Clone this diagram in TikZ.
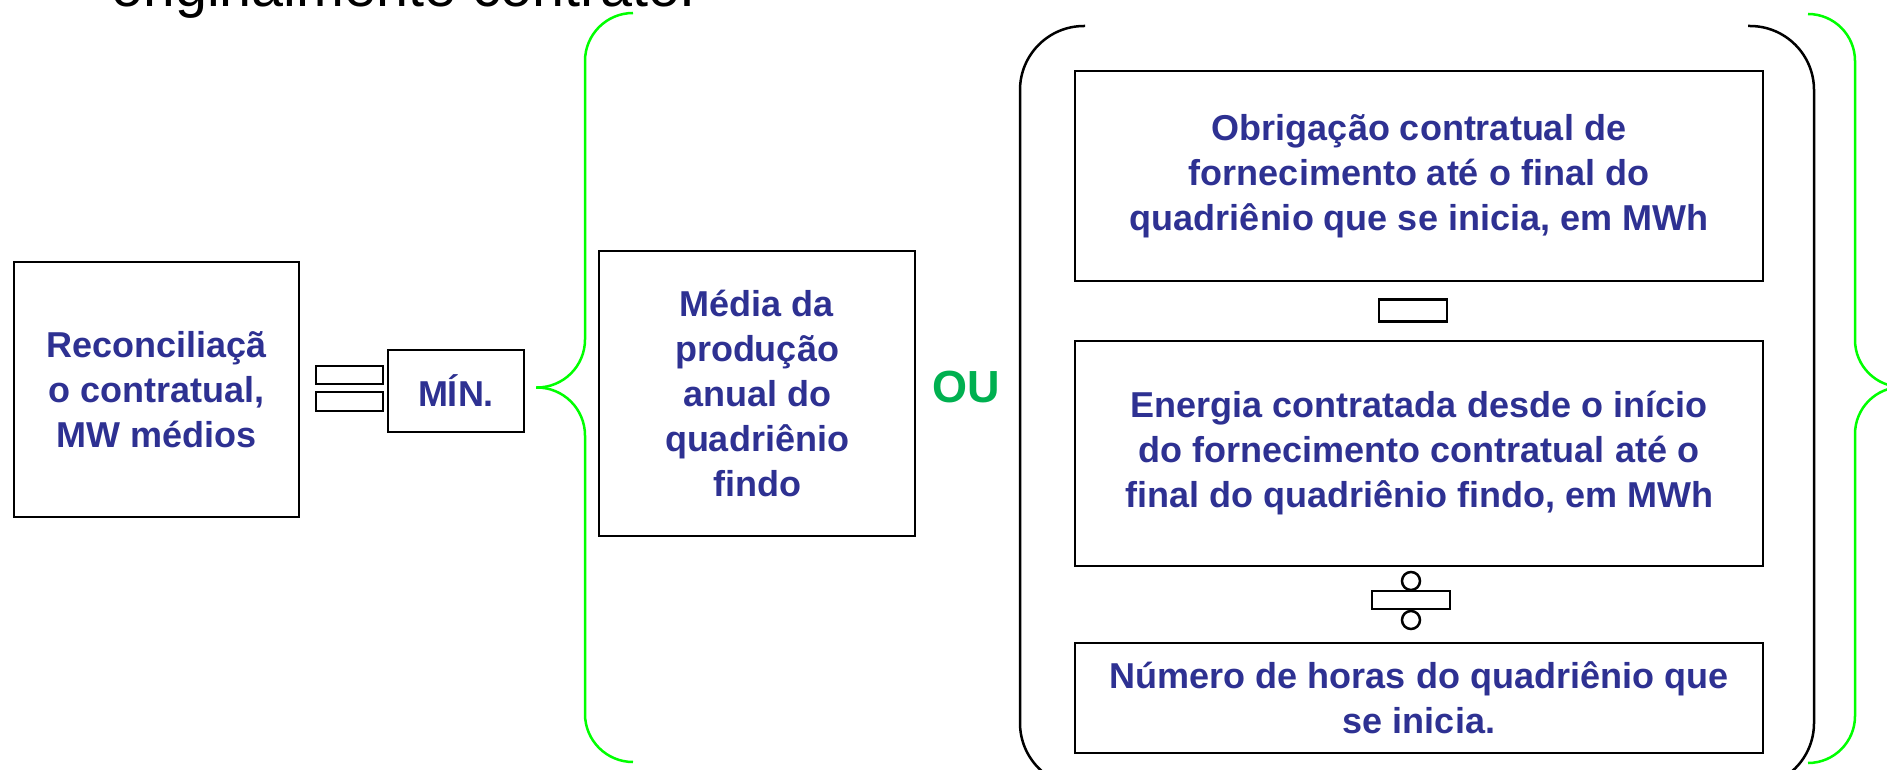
\documentclass[tikz,border=0pt]{standalone}
\usepackage{fontspec}
\setmainfont{Liberation Sans}
\definecolor{txtblue}{RGB}{46,49,146}
\definecolor{ougreen}{RGB}{0,176,80}
\definecolor{bracegreen}{RGB}{0,255,0}
\begin{document}
\begin{tikzpicture}[x=1pt,y=-1pt,
  box/.style={draw=black, line width=2.5pt, inner sep=0pt, align=center, text=txtblue,
              font=\fontsize{36}{45}\selectfont\bfseries},
  symbox/.style={draw=black, line width=2.5pt, inner sep=0pt, fill=white},
  symdot/.style={circle, draw=black, line width=2.5pt, inner sep=0pt, minimum size=18pt, fill=white},
  bracepath/.style={draw=bracegreen, line width=2.5pt},
  parenpath/.style={draw=black, line width=2.5pt}]
\useasboundingbox (0,0) rectangle (1887,770);
\clip (0,0) rectangle (1887,770);

% title fragment (cut off at top)
\node[anchor=base west, inner sep=0pt, font=\fontsize{57.5}{60}\selectfont] (title) at (111,7) {originalmente contrato.};

% left box
\node[box, minimum width=285pt, minimum height=255pt] (recon) at (156.5,389.5)
  {Reconciliaçã\\o contratual,\\MW médios};

% equals sign
\node[symbox, minimum width=67pt, minimum height=18pt] (eqa) at (349.5,375) {};
\node[symbox, minimum width=67pt, minimum height=19pt] (eqb) at (349.5,401.5) {};

% MIN box
\node[box, minimum width=136pt, minimum height=82pt] (min) at (456,391) {MÍN.};

% left green brace
\draw[bracepath, rounded corners=48pt] (633,13) -| (585,387.5) -- (536,387.5);
\draw[bracepath, rounded corners=48pt] (536,387.5) -- (585,387.5) |- (633,762);

% media box
\node[box, minimum width=316pt, minimum height=285pt] (media) at (757,393.5)
  {Média da\\produção\\anual do\\quadriênio\\findo};

% OU
\node[inner sep=0pt, text=ougreen, font=\fontsize{45}{50}\selectfont\bfseries] (ou) at (966,387) {OU};

% black parentheses
\draw[parenpath, rounded corners=64pt] (1085,26) -| (1020,787) -- (1085,787);
\draw[parenpath, rounded corners=64pt] (1748,26) -| (1814,787) -- (1748,787);

% right column boxes
\node[box, minimum width=688pt, minimum height=210pt] (obr) at (1419,176)
  {Obrigação contratual de\\fornecimento até o final do\\quadriênio que se inicia, em MWh};
\node[symbox, minimum width=68pt, minimum height=22pt] (minus) at (1413,310.5) {};
\node[box, minimum width=688pt, minimum height=225pt] (ener) at (1419,453.5)
  {Energia contratada desde o início\\do fornecimento contratual até o\\final do quadriênio findo, em MWh};
\node[symdot] (dtop) at (1411,581) {};
\node[symdot] (dbot) at (1411,620) {};
\node[symbox, minimum width=78pt, minimum height=18pt] (divbar) at (1411,600) {};
\node[box, minimum width=688pt, minimum height=110pt] (horas) at (1419,698)
  {Número de horas do quadriênio que\\se inicia.};

% right green brace (tip cut off at right edge)
\draw[bracepath, rounded corners=47pt] (1808,14) -| (1855,387) -- (1904,387);
\draw[bracepath, rounded corners=47pt] (1904,387) -- (1855,387) |- (1808,763);
\end{tikzpicture}
\end{document}
